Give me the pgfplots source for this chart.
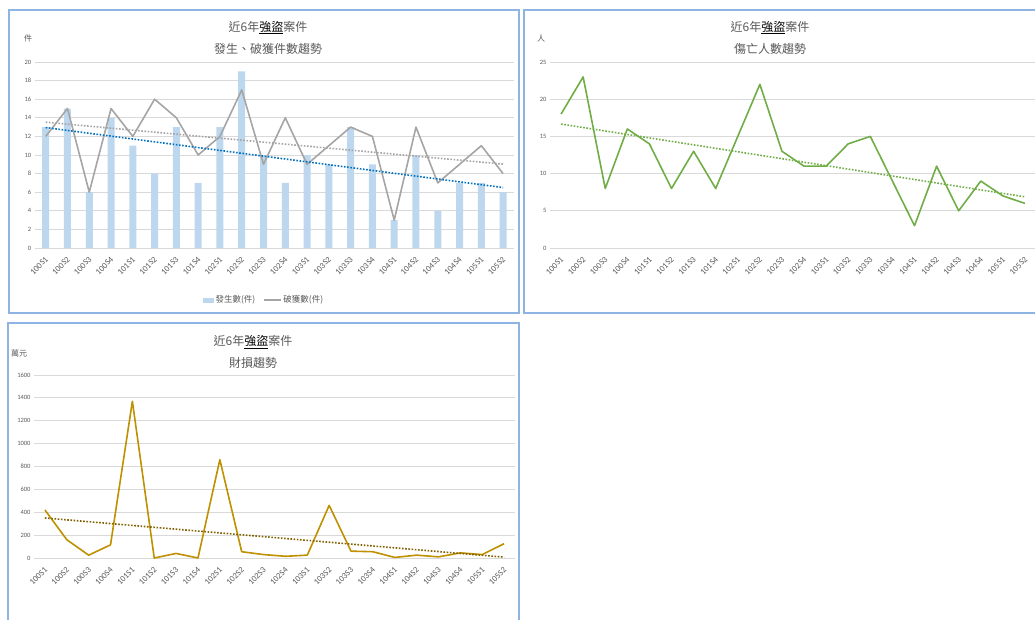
\documentclass[border=0pt]{standalone}
\usepackage{fontspec}
\setmainfont{Carlito}
\newfontfamily\cjk{Noto Sans CJK TC}
\usepackage{pgfplots}
\pgfplotsset{compat=1.18}
\definecolor{frame}{RGB}{141,180,226}
\definecolor{gridc}{RGB}{217,217,217}
\definecolor{txt}{RGB}{89,89,89}
\definecolor{barblue}{RGB}{189,215,238}
\definecolor{lgray}{RGB}{165,165,165}
\definecolor{tblue}{RGB}{0,112,192}
\definecolor{lgreen}{RGB}{112,173,71}
\definecolor{gold}{RGB}{191,144,0}
\definecolor{tgold}{RGB}{128,96,0}
\pgfplotsset{panel/.style={
  scale only axis,
  xmin=-0.5, xmax=21.5,
  xtick={0,...,21},
  xticklabels={100S1,100S2,100S3,100S4,101S1,101S2,101S3,101S4,102S1,102S2,102S3,102S4,103S1,103S2,103S3,103S4,104S1,104S2,104S3,104S4,105S1,105S2},
  xticklabel style={xshift=-1pt, yshift=-8pt, rotate=45, anchor=north east, font=\fontsize{8.5}{9}\selectfont, text=txt, inner sep=0pt},
  yticklabel style={font=\fontsize{6.5}{7}\selectfont, text=txt},
  /pgf/number format/assume math mode=true,
  /pgf/number format/1000 sep={},
  axis line style={draw=none},
  major tick length=0pt,
  ymajorgrids, major grid style={gridc, line width=1pt},
  clip=false,
},
trend/.style={line width=1.6pt, dash pattern=on 1.6pt off 1.6pt, forget plot},
dline/.style={line width=1.6pt, line join=round}}
\begin{document}
\begin{tikzpicture}
\path[use as bounding box] (0,0) rectangle (1035pt,-619pt);
\clip (0,0) rectangle (1035pt,-619pt);
% frames
\draw[frame, line width=1.2pt] (9pt,-10pt) rectangle (519pt,-313pt);
\draw[frame, line width=1.2pt] (524pt,-10pt) rectangle (1045pt,-313pt);
\draw[frame, line width=1.2pt] (8pt,-323pt) rectangle (519pt,-630pt);

% ---------- Panel 1
\begin{axis}[panel, at={(34.8pt,-248pt)}, anchor=south west,
  width=479.2pt, height=186pt, ymin=0, ymax=20, ytick={0,2,...,20},
  legend columns=2,
  legend style={draw=none, at={(0.478,-0.28)}, anchor=center,
    font=\cjk\fontsize{8.5}{9}\selectfont, text=txt,
    /tikz/every even column/.append style={column sep=6pt}},
  legend cell align=left]
\addplot[ybar, fill=barblue, draw=none, bar width=7pt,
  legend image code/.code={\fill[barblue] (0pt,-2.5pt) rectangle (11pt,2.5pt);}]
  coordinates {(0,13) (1,15) (2,6) (3,14) (4,11) (5,8) (6,13) (7,7) (8,13) (9,19) (10,10) (11,7) (12,10) (13,9) (14,13) (15,9) (16,3) (17,10) (18,4) (19,7) (20,7) (21,6)};
\addlegendentry{發生數(件)}
\addplot[lgray, dline, legend image code/.code={\draw[lgray, line width=1.2pt] (0pt,0pt) -- (17pt,0pt);}]
  coordinates {(0,12) (1,15) (2,6) (3,15) (4,12) (5,16) (6,14) (7,10) (8,12) (9,17) (10,9) (11,14) (12,9) (13,11) (14,13) (15,12) (16,3) (17,13) (18,7) (19,9) (20,11) (21,8)};
\addlegendentry{破獲數(件)}
\addplot[tblue, trend] coordinates {(0,12.95) (21,6.50)};
\addplot[lgray, trend] coordinates {(0,13.53) (21,9.02)};
\end{axis}
\node[text=txt, font=\cjk\fontsize{12}{14}\selectfont] at (268pt,-27.5pt) {近6年\textcolor{black}{\underline{強盜}}案件};
\node[text=txt, font=\cjk\fontsize{12}{14}\selectfont] at (268pt,-48.5pt) {發生、破獲件數趨勢};
\node[text=txt, font=\cjk\fontsize{8}{9}\selectfont] at (28pt,-38pt) {件};

% ---------- Panel 2
\begin{axis}[panel, at={(550pt,-248pt)}, anchor=south west,
  width=486pt, height=186pt, ymin=0, ymax=25, ytick={0,5,...,25}]
\addplot[lgreen, dline]
  coordinates {(0,18) (1,23) (2,8) (3,16) (4,14) (5,8) (6,13) (7,8) (8,15) (9,22) (10,13) (11,11) (12,11) (13,14) (14,15) (15,9) (16,3) (17,11) (18,5) (19,9) (20,7) (21,6)};
\addplot[lgreen, trend] coordinates {(0,16.66) (21,6.88)};
\end{axis}
\node[text=txt, font=\cjk\fontsize{12}{14}\selectfont] at (770pt,-27.5pt) {近6年\textcolor{black}{\underline{強盜}}案件};
\node[text=txt, font=\cjk\fontsize{12}{14}\selectfont] at (770pt,-48.5pt) {傷亡人數趨勢};
\node[text=txt, font=\cjk\fontsize{8}{9}\selectfont] at (541pt,-38pt) {人};

% ---------- Panel 3
\begin{axis}[panel, at={(34pt,-558pt)}, anchor=south west,
  width=481pt, height=183pt, ymin=0, ymax=1600, ytick={0,200,...,1600}]
\addplot[gold, dline]
  coordinates {(0,420) (1,160) (2,25) (3,115) (4,1370) (5,0) (6,40) (7,0) (8,860) (9,55) (10,30) (11,15) (12,25) (13,460) (14,60) (15,55) (16,5) (17,25) (18,10) (19,45) (20,30) (21,125)};
\addplot[tgold, trend] coordinates {(0,349.9) (21,7.4)};
\end{axis}
\node[text=txt, font=\cjk\fontsize{12}{14}\selectfont] at (253pt,-342pt) {近6年\textcolor{black}{\underline{強盜}}案件};
\node[text=txt, font=\cjk\fontsize{12}{14}\selectfont] at (253pt,-363pt) {財損趨勢};
\node[text=txt, font=\cjk\fontsize{8}{9}\selectfont] at (19pt,-353pt) {萬元};
\end{tikzpicture}
\end{document}
